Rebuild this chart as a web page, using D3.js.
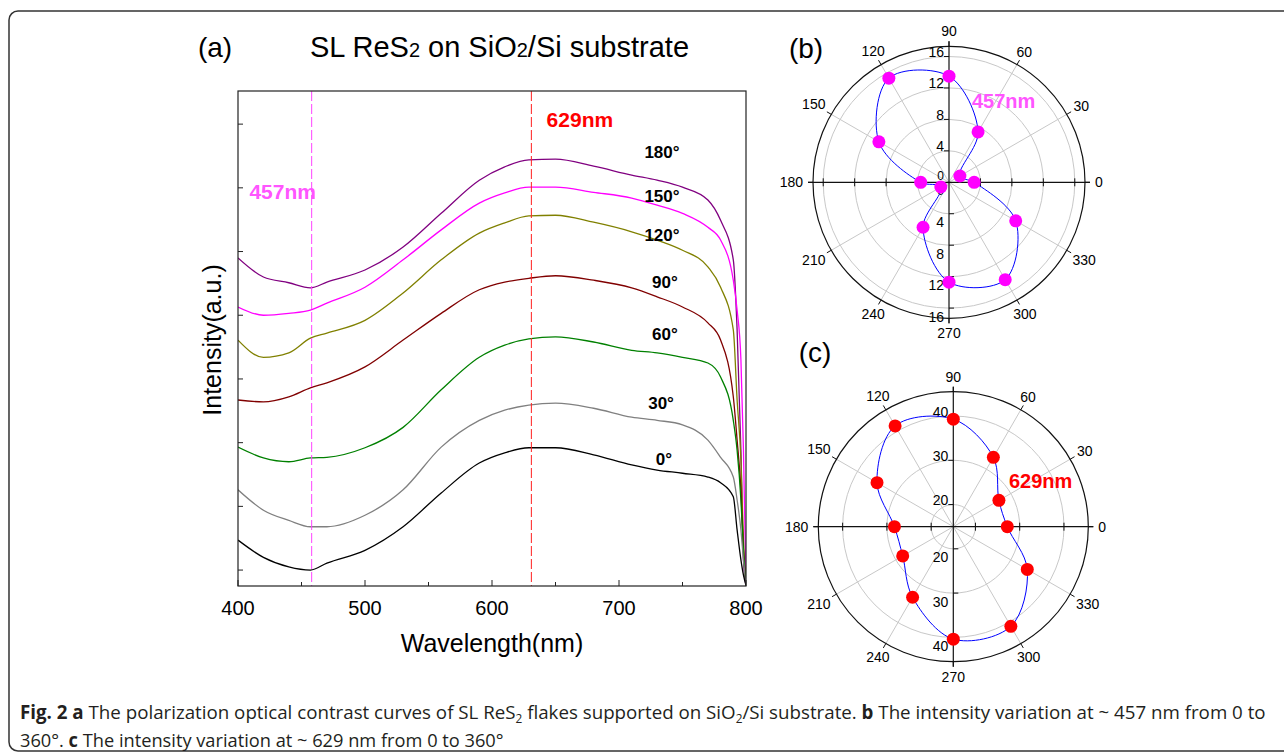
<!DOCTYPE html>
<html>
<head>
<meta charset="utf-8">
<script src="https://d3js.org/d3.v7.min.js"></script>
<style>
  body { margin: 0; background: #fff; }
  svg text { font-family: "Liberation Sans", Arial, sans-serif; }
</style>
</head>
<body>
<script>
// ---- panel (a): spectra, intensity in a.u. ----
var wavelength = [400,420,440,457,470,500,530,560,590,610,629,650,680,710,730,750,770,780,790,793,796,798,800];
var deg180 = [5.90,5.60,5.51,5.43,5.52,5.71,6.07,6.60,7.12,7.33,7.44,7.45,7.34,7.20,7.12,7.01,6.81,6.49,5.87,4.77,2.88,1.16,0.76];
var deg150 = [5.13,5.00,5.03,5.08,5.19,5.44,5.87,6.34,6.76,6.92,7.01,7.01,6.93,6.84,6.73,6.60,6.38,6.18,5.55,5.08,4.30,2.88,0.76];
var deg120 = [4.61,4.34,4.41,4.64,4.72,4.92,5.35,5.87,6.29,6.45,6.56,6.57,6.46,6.31,6.18,6.02,5.76,5.44,4.77,3.67,2.73,1.47,0.76];
var deg90  = [3.67,3.64,3.72,3.86,3.94,4.19,4.61,5.03,5.40,5.52,5.58,5.62,5.55,5.43,5.29,5.13,4.88,4.61,3.72,3.04,2.26,1.31,0.76];
var deg60  = [2.93,2.76,2.70,2.76,2.77,2.92,3.24,3.83,4.34,4.53,4.63,4.66,4.58,4.45,4.41,4.34,4.25,4.03,3.35,2.88,2.10,1.31,0.76];
var deg30  = [2.26,1.94,1.78,1.68,1.68,1.86,2.26,2.93,3.35,3.51,3.59,3.62,3.54,3.40,3.35,3.28,3.04,2.77,2.46,2.10,1.63,1.16,0.76];
var deg0   = [1.47,1.20,1.05,1.00,1.11,1.31,1.68,2.21,2.68,2.84,2.92,2.92,2.81,2.65,2.57,2.52,2.46,2.37,2.15,1.63,1.16,0.92,0.76];
var seriesNames  = ["180°","150°","120°","90°","60°","30°","0°"];
var seriesColors = ["#800080","#ff00ff","#808000","#800000","#008000","#808080","#000000"];
var markLines = [458, 631];      // dashed guides (457 nm, 629 nm)
var xTicks = [400,500,600,700,800];
var yTicks = [1,2,3,4,5,6,7,8];

// ---- panels (b), (c): polar intensity vs polarization angle ----
var polarAngle = [0,30,60,90,120,150,180,210,240,270,300,330];
var int457 = [3.2,1.6,7.4,13.5,15.3,10.3,3.6,1.2,6.6,12.7,14.3,9.8];
var int629 = [27.2,26.9,33.1,39.3,41.3,34.9,28.3,28.2,33.4,40.4,41.0,34.3];
var rings457 = [4,8,12,16];
var rings629 = [20,30,40];

var svg = d3.select("body").append("svg")
    .attr("width", 1284).attr("height", 756);

// outer frame
svg.append("rect")
    .attr("x", 9).attr("y", 11).attr("width", 1300).attr("height", 740)
    .attr("rx", 9).attr("fill", "none").attr("stroke", "#333").attr("stroke-width", 1.5);

// ================= panel (a) =================
var x = d3.scaleLinear().domain([400, 800]).range([238, 746]);
var y = d3.scaleLinear().domain([0.75, 8.52]).range([586, 91]);

svg.append("text").attr("x", 215).attr("y", 57).attr("text-anchor", "middle")
    .style("font-size", "28px").text("(a)");
var title = svg.append("text").attr("x", 310).attr("y", 57).style("font-size", "29px");
title.append("tspan").text("SL ReS");
title.append("tspan").style("font-size", "20px").text("2");
title.append("tspan").text(" on SiO");
title.append("tspan").style("font-size", "20px").text("2");
title.append("tspan").text("/Si substrate");

svg.append("clipPath").attr("id", "clipA").append("rect")
    .attr("x", 238).attr("y", 91).attr("width", 508).attr("height", 495);

var lineA = d3.line()
    .x(function (d) { return x(d[0]); })
    .y(function (d) { return y(d[1]); })
    .curve(d3.curveMonotoneX);

var allSeries = [deg180, deg150, deg120, deg90, deg60, deg30, deg0];
var gA = svg.append("g").attr("clip-path", "url(#clipA)");
allSeries.forEach(function (vals, i) {
  gA.append("path")
      .datum(wavelength.map(function (w, j) { return [w, vals[j]]; }))
      .attr("d", lineA)
      .attr("fill", "none")
      .attr("stroke", seriesColors[i])
      .attr("stroke-width", 1.3);
});

// dashed guide lines
gA.append("line").attr("x1", x(markLines[0])).attr("x2", x(markLines[0]))
    .attr("y1", 91).attr("y2", 586)
    .attr("stroke", "#ff44ff").attr("stroke-dasharray", "10,3");
gA.append("line").attr("x1", x(markLines[1])).attr("x2", x(markLines[1]))
    .attr("y1", 91).attr("y2", 586)
    .attr("stroke", "#ff2020").attr("stroke-dasharray", "10,3");

// frame
svg.append("rect").attr("x", 238).attr("y", 91).attr("width", 508).attr("height", 495)
    .attr("fill", "none").attr("stroke", "#222").attr("stroke-width", 1.2);

// x ticks (inward) major + minor
var xMinor = d3.range(450, 800, 100);
svg.selectAll(".xmaj").data(xTicks).enter().append("line")
    .attr("x1", x).attr("x2", x).attr("y1", 586).attr("y2", 580).attr("stroke", "#222");
svg.selectAll(".xmin").data(xMinor).enter().append("line")
    .attr("x1", x).attr("x2", x).attr("y1", 586).attr("y2", 582).attr("stroke", "#222");
svg.selectAll(".xlab").data(xTicks).enter().append("text")
    .attr("x", x).attr("y", 615).attr("text-anchor", "middle")
    .style("font-size", "20px").text(function (d) { return d; });
svg.selectAll(".ytk").data(yTicks).enter().append("line")
    .attr("x1", 238).attr("x2", 243).attr("y1", y).attr("y2", y).attr("stroke", "#222");

svg.append("text").attr("x", 492).attr("y", 652).attr("text-anchor", "middle")
    .style("font-size", "25px").text("Wavelength(nm)");
svg.append("text").attr("transform", "translate(221,340) rotate(-90)")
    .attr("text-anchor", "middle").style("font-size", "25px").text("Intensity(a.u.)");

// annotations
svg.append("text").attr("x", x(409)).attr("y", y(6.83)).style("font-size", "21px")
    .style("font-weight", "bold").attr("fill", "#ff55ff").text("457nm");
svg.append("text").attr("x", x(643)).attr("y", y(7.95)).style("font-size", "21px")
    .style("font-weight", "bold").attr("fill", "#ff0000").text("629nm");

var labelPos = [[720, 7.47], [720, 6.78], [720, 6.17], [726, 5.43], [726, 4.61], [723, 3.53], [729, 2.65]];
seriesNames.forEach(function (n, i) {
  svg.append("text").attr("x", x(labelPos[i][0])).attr("y", y(labelPos[i][1]))
      .style("font-size", "17px").style("font-weight", "bold").text(n);
});

// ================= polar panels =================
function polar(cx, cy, R, dom, rings, vals, dotColor, tag, tagX, tagY) {
  var r = d3.scaleLinear().domain(dom).range([0, R]);
  var g = svg.append("g");
  var rad = function (a) { return a * Math.PI / 180; };

  g.selectAll(".ring").data(rings).enter().append("circle")
      .attr("cx", cx).attr("cy", cy).attr("r", r)
      .attr("fill", "none").attr("stroke", "#c8c8c8");
  [30, 60, 120, 150, 210, 240, 300, 330].forEach(function (a) {
    g.append("line").attr("x1", cx).attr("y1", cy)
        .attr("x2", cx + R * Math.cos(rad(a))).attr("y2", cy - R * Math.sin(rad(a)))
        .attr("stroke", "#c8c8c8");
  });
  g.append("circle").attr("cx", cx).attr("cy", cy).attr("r", R)
      .attr("fill", "none").attr("stroke", "#111").attr("stroke-width", 1.2);

  // cross axes
  g.append("line").attr("x1", cx - R - 5).attr("x2", cx + R + 5).attr("y1", cy).attr("y2", cy)
      .attr("stroke", "#111").attr("stroke-width", 1.2);
  g.append("line").attr("x1", cx).attr("x2", cx).attr("y1", cy - R - 5).attr("y2", cy + R + 5)
      .attr("stroke", "#111").attr("stroke-width", 1.2);

  var tv = [dom[0]].concat(rings);
  rings.forEach(function (v) {
    [-1, 1].forEach(function (s) {
      g.append("line").attr("x1", cx + s * r(v)).attr("x2", cx + s * r(v))
          .attr("y1", cy - 4).attr("y2", cy + 4).attr("stroke", "#111");
    });
    g.append("line").attr("x1", cx - 5).attr("x2", cx).attr("y1", cy - r(v)).attr("y2", cy - r(v)).attr("stroke", "#111");
    g.append("line").attr("x1", cx).attr("x2", cx + 5).attr("y1", cy + r(v)).attr("y2", cy + r(v)).attr("stroke", "#111");
  });
  tv.forEach(function (v) {
    if (v === dom[0] && dom[0] !== 0) return;
    var centre = (v === dom[0]);
    g.append("text").attr("x", cx - 5).attr("y", cy - r(v) - (centre ? 6 : 4.5))
        .attr("text-anchor", "end").attr("dominant-baseline", "central")
        .style("font-size", centre ? "12px" : "14px").text(v);
    g.append("text").attr("x", cx - 5).attr("y", cy + r(v) + (centre ? 9 : 8.5))
        .attr("text-anchor", "end").attr("dominant-baseline", "central")
        .style("font-size", centre ? "12px" : "14px").text(v);
  });

  // angle ticks and labels
  d3.range(0, 360, 30).forEach(function (a) {
    var c = Math.cos(rad(a)), s = Math.sin(rad(a));
    g.append("line").attr("x1", cx + R * c).attr("y1", cy - R * s)
        .attr("x2", cx + (R + 5) * c).attr("y2", cy - (R + 5) * s).attr("stroke", "#111");
    var t = g.append("text").attr("text-anchor", "middle").attr("dominant-baseline", "central")
        .style("font-size", "14px").text(a);
    var w = t.node().getComputedTextLength();
    var rr = R + 10 + Math.max(Math.abs(c) * w / 2, Math.abs(s) * 5);
    t.attr("x", cx + rr * c).attr("y", cy - rr * s);
  });

  var pts = polarAngle.map(function (a, i) {
    return [cx + r(vals[i]) * Math.cos(rad(a)), cy - r(vals[i]) * Math.sin(rad(a))];
  });
  g.append("path").attr("d", d3.line().curve(d3.curveCatmullRomClosed.alpha(0.5))(pts))
      .attr("fill", "none").attr("stroke", "#0000ff").attr("stroke-width", 1);
  g.selectAll(".dot").data(pts).enter().append("circle")
      .attr("cx", function (d) { return d[0]; }).attr("cy", function (d) { return d[1]; })
      .attr("r", 6.5).attr("fill", dotColor);

  g.append("text").attr("x", tagX).attr("y", tagY).attr("dominant-baseline", "central")
      .style("font-size", "20px").style("font-weight", "bold")
      .attr("fill", dotColor === "#ff00ff" ? "#ff55ff" : "#ff0000").text(tag);
}

svg.append("text").attr("x", 806).attr("y", 58).attr("text-anchor", "middle")
    .style("font-size", "28px").text("(b)");
svg.append("text").attr("x", 815).attr("y", 362).attr("text-anchor", "middle")
    .style("font-size", "28px").text("(c)");

polar(949, 182.3, 136, [0, 17.3], rings457, int457, "#ff00ff", "457nm", 972, 101);
polar(953.3, 526.7, 135, [15, 45.5], rings629, int629, "#ff0000", "629nm", 1009, 481);

// ================= caption =================
// condensed look: horizontally squeezed text, fitted to the reference width
function caption(yPos, targetW, parts) {
  var t = svg.append("text").attr("fill", "#231f20")
      .style("font-family", "'Open Sans', sans-serif").style("font-size", "19px");
  parts.forEach(function (p) {
    var ts = t.append("tspan").text(p.t);
    if (p.b) ts.style("font-weight", "bold");
    if (p.sub) ts.attr("dy", 4).style("font-size", "12px");
    if (p.up) ts.attr("dy", -4);
  });
  var w = t.node().getComputedTextLength();
  t.attr("transform", "translate(20," + yPos + ") scale(" + (targetW / w) + ",1)");
}
caption(719, 1246, [
  {t: "Fig. 2 a", b: true},
  {t: " The polarization optical contrast curves of SL ReS"},
  {t: "2", sub: true},
  {t: " flakes supported on SiO", up: true},
  {t: "2", sub: true},
  {t: "/Si substrate. ", up: true},
  {t: "b", b: true},
  {t: " The intensity variation at ~ 457 nm from 0 to"}
]);
caption(747, 484, [
  {t: "360°. "},
  {t: "c", b: true},
  {t: " The intensity variation at ~ 629 nm from 0 to 360°"}
]);
</script>
</body>
</html>
